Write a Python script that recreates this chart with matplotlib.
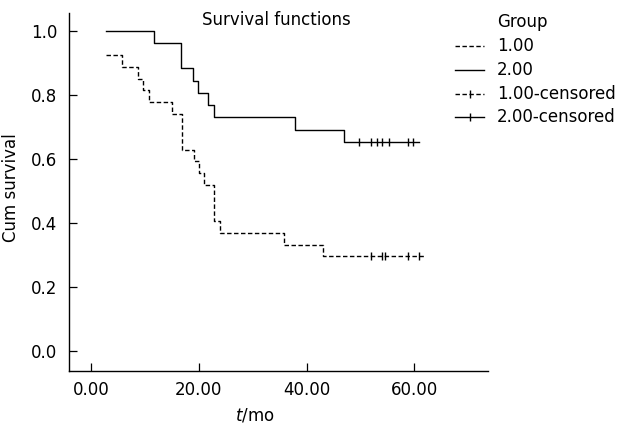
import matplotlib
matplotlib.use("Agg")
import matplotlib.pyplot as plt
from matplotlib.lines import Line2D

plt.rcParams['font.family'] = ['DejaVu Sans']
plt.rcParams['mathtext.fontset'] = 'custom'
plt.rcParams['mathtext.it'] = 'DejaVu Sans:italic'

# Group 1.00 (dashed): event times and survival after each step
g1_times = [2.8, 5.8, 8.8, 9.7, 10.8, 15.1, 16.9, 19.05, 20.0, 20.9, 22.9, 24.0, 35.9, 43.0]
g1_surv = [0.926, 0.889, 0.852, 0.815, 0.778, 0.741, 0.630, 0.593, 0.556, 0.519, 0.407, 0.370, 0.333, 0.296]
g1_end = 62.0
g1_censored = [51.9, 54.1, 54.65, 58.9, 60.9]

# Group 2.00 (solid)
g2_times = [2.8, 11.75, 16.76, 19.0, 19.9, 21.8, 22.9, 37.9, 46.9]
g2_surv = [1.0, 0.962, 0.885, 0.846, 0.808, 0.769, 0.731, 0.692, 0.654]
g2_end = 60.8
g2_censored = [49.8, 52.0, 53.05, 54.1, 55.3, 58.9, 59.8]

x_ticks = [0, 20, 40, 60]
x_ticklabels = ["0.00", "20.00", "40.00", "60.00"]
y_ticks = [0.0, 0.2, 0.4, 0.6, 0.8, 1.0]
legend_labels = ["1.00", "2.00", "1.00-censored", "2.00-censored"]

fs = 12
dash = (0, (3.2, 1.8))

fig = plt.figure(figsize=(6.23, 4.28), dpi=100)
ax = fig.add_axes([69 / 623, 1 - 371 / 428, (488 - 69) / 623, (371 - 12.7) / 428])


def censored_y(times, surv, ct):
    val = surv[0]
    for t, s in zip(times, surv):
        if t <= ct:
            val = s
    return val


for times, surv, end, cens, ls in [(g1_times, g1_surv, g1_end, g1_censored, dash),
                                   (g2_times, g2_surv, g2_end, g2_censored, '-')]:
    xs = list(times) + [end]
    ys = list(surv) + [surv[-1]]
    ax.step(xs, ys, where='post', color='black', lw=1.0, linestyle=ls)
    cy = [censored_y(times, surv, c) for c in cens]
    ax.plot(cens, cy, linestyle='none', marker='|', markersize=5.5,
            markeredgewidth=1.0, color='black')

ax.set_xlim(-4.1, 73.7)
ax.set_ylim(-0.062, 1.058)
ax.set_xticks(x_ticks)
ax.set_xticklabels(x_ticklabels)
ax.set_yticks(y_ticks)
ax.set_yticklabels([f"{v:.1f}" for v in y_ticks])
ax.tick_params(axis='both', direction='in', length=6, width=0.9, labelsize=fs)
ax.tick_params(axis='y', pad=8.5)
ax.tick_params(axis='x', pad=7.5)
for s in ['top', 'right']:
    ax.spines[s].set_visible(False)
for s in ['left', 'bottom']:
    ax.spines[s].set_linewidth(1.0)

ax.set_xlabel(r"$t$/mo", fontsize=fs)
ax.xaxis.set_label_coords(0.443, -0.10)
ax.set_ylabel("Cum survival", fontsize=fs)
ax.yaxis.set_label_coords(-0.117, 0.512)

fig.text(276 / 623, 1 - 20 / 428, "Survival functions", ha='center', va='center', fontsize=fs)

# legend
fig.text(497 / 623, 1 - 22 / 428, "Group", ha='left', va='center', fontsize=fs)
styles = [(dash, False), ('-', False), (dash, True), ('-', True)]
ypix = [46, 70, 94, 117]
for (ls, mark), lab, yp in zip(styles, legend_labels, ypix):
    yf = 1 - yp / 428
    fig.add_artist(Line2D([455 / 623, 484 / 623], [yf, yf], color='black', lw=1.0,
                          linestyle=ls, transform=fig.transFigure))
    if mark:
        fig.add_artist(Line2D([469.5 / 623], [yf], marker='|', markersize=5.5,
                              markeredgewidth=1.0, color='black', linestyle='none',
                              transform=fig.transFigure))
    fig.text(497 / 623, yf, lab, ha='left', va='center', fontsize=fs)

fig.savefig("out.png", dpi=100)
